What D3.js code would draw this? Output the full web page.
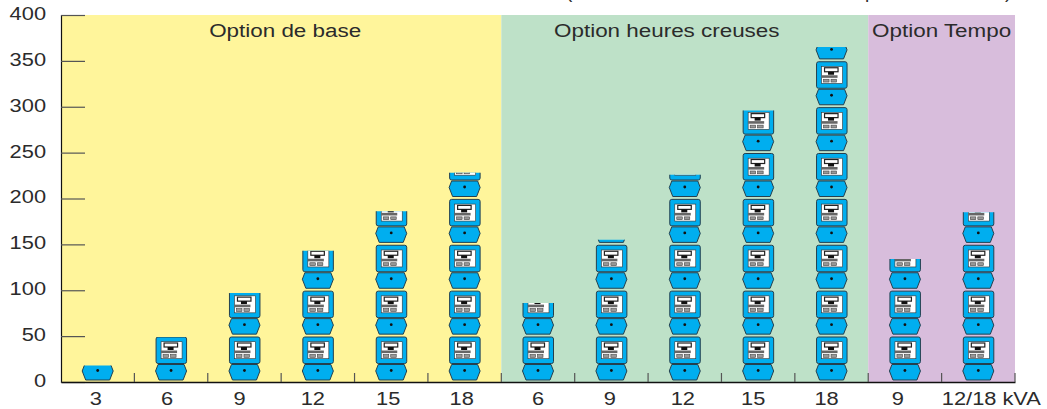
<!DOCTYPE html>
<html>
<head>
<meta charset="utf-8">
<script src="https://cdn.jsdelivr.net/npm/d3@7"></script>
<style>
  html, body { margin: 0; padding: 0; background: #fff; }
  svg { display: block; }
  text { font-family: "Liberation Sans", Arial, sans-serif; fill: #2b2b2b; }
  .axis text { font-size: 18.5px; }
  .zone { font-size: 19px; text-anchor: middle; }
</style>
</head>
<body>
<div id="plot"></div>
<script>
const categories = ["3", "6", "9", "12", "15", "18", "6", "9", "12", "15", "18", "9", "12/18 kVA"]
const values = [18, 49, 97, 143, 186, 228, 86, 155, 226, 296, 365, 134, 185]
const zoneNames = ["Option de base", "Option heures creuses", "Option Tempo"]
const zoneSpans = [6, 5, 2]
const zoneColors = ["#fff59b", "#bee1c8", "#d8bddc"]
const yTicks = [0, 50, 100, 150, 200, 250, 300, 350, 400]
const titleBits = ["(", "p", ")"]

// layout nudges, the labels of the original are not quite centred
const titleX = [566, 865, 1005],
    zoneShift = [4, -18, 0],
    labelShift = [-2, -4, -5, -5, -3, -3, 0, -1.5, -2, -5, -5, -7, -36.5],
    stretch = 1.18 // the original text is wider than it is tall

const w = 1047,
    h = 409,
    margin = {top: 15, right: 32, bottom: 27, left: 61},
    unit = 50, // one meter = 50
    ink = "#24404f",
    blue = "#00aeef"

const x = d3.scaleBand()
    .domain(d3.range(categories.length))
    .range([margin.left, w - margin.right])
const y = d3.scaleLinear()
    .domain([0, 400])
    .range([h - margin.bottom, margin.top])

const svg = d3.select("#plot").append("svg")
    .attr("width", w)
    .attr("height", h)

// coloured zones
let start = 0
zoneNames.forEach((name, i) => {
  const x0 = x(start),
      x1 = x(start) + x.step() * zoneSpans[i]
  svg.append("rect")
    .attr("x", x0)
    .attr("y", y(400))
    .attr("width", x1 - x0)
    .attr("height", y(0) - y(400))
    .attr("fill", zoneColors[i])
  svg.append("text")
    .attr("class", "zone")
    .attr("transform", `translate(${(x0 + x1) / 2 + zoneShift[i]},${y(400) + 22}) scale(${stretch},1)`)
    .text(name)
  start += zoneSpans[i]
})

// what is left of the cut off title line
titleBits.forEach((d, i) => {
  svg.append("text")
    .attr("x", titleX[i])
    .attr("y", -2)
    .style("font-size", "19px")
    .text(d)
})

// one meter, drawn with its base on y(0)
const drawMeter = (g) => {
  g.append("path")
    .attr("d", "M-13,-17.5 L13,-17.5 L15.5,-11 L12,-2 L-12,-2 L-15.5,-11 Z")
    .attr("fill", blue)
    .attr("stroke", ink)
    .attr("stroke-width", 1)
    .attr("stroke-linejoin", "round")
  g.append("circle")
    .attr("cy", -11.5)
    .attr("r", 1.4)
    .attr("fill", "#111")
  g.append("rect")
    .attr("x", -15)
    .attr("y", -45)
    .attr("width", 30.5)
    .attr("height", 26.5)
    .attr("rx", 2)
    .attr("fill", blue)
    .attr("stroke", ink)
    .attr("stroke-width", 1)
  g.append("rect")
    .attr("x", -10)
    .attr("y", -40.3)
    .attr("width", 21)
    .attr("height", 17)
    .attr("fill", "#fff")
    .attr("stroke", "#333")
    .attr("stroke-width", 0.6)
  g.append("rect")
    .attr("x", -7)
    .attr("y", -39)
    .attr("width", 13.5)
    .attr("height", 4)
    .attr("fill", "#fff")
    .attr("stroke", "#222")
    .attr("stroke-width", 1.2)
  g.append("rect")
    .attr("x", -3.5)
    .attr("y", -35)
    .attr("width", 6)
    .attr("height", 3)
    .attr("fill", "#111")
  g.append("rect")
    .attr("x", -10)
    .attr("y", -31.5)
    .attr("width", 16)
    .attr("height", 2.6)
    .attr("fill", "#666")
  g.append("rect")
    .attr("x", -8)
    .attr("y", -27.5)
    .attr("width", 5.5)
    .attr("height", 2.8)
    .attr("fill", "#999")
    .attr("stroke", "#444")
    .attr("stroke-width", 0.6)
  g.append("rect")
    .attr("x", -0.5)
    .attr("y", -27.5)
    .attr("width", 5.5)
    .attr("height", 2.8)
    .attr("fill", "#999")
    .attr("stroke", "#444")
    .attr("stroke-width", 0.6)
}

// stacks of meters cut at their value
const bars = svg.selectAll(".bar")
    .data(values)
    .join("g")
    .attr("class", "bar")

bars.append("clipPath")
    .attr("id", (d, i) => `bar-clip-${i}`)
    .append("rect")
    .attr("x", (d, i) => x(i))
    .attr("width", x.step())
    .attr("y", d => y(d))
    .attr("height", d => y(0) - y(d))

bars.each(function(d, i) {
  const stack = d3.select(this).append("g")
      .attr("clip-path", `url(#bar-clip-${i})`)
  d3.range(Math.ceil(d / unit)).forEach(n => {
    stack.append("g")
      .attr("transform", `translate(${x(i) + x.bandwidth() / 2},${y(n * unit)})`)
      .call(drawMeter)
  })
})

// y axis
svg.append("g")
    .attr("class", "axis")
    .attr("transform", `translate(${margin.left},0)`)
    .call(d3.axisLeft(y).tickValues(yTicks).tickSize(-24).tickPadding(15))
    .call(g => g.selectAll(".tick line").attr("stroke", "#555").attr("stroke-width", 1.2))
    .call(g => g.select(".domain").attr("stroke", "#111").attr("stroke-width", 1.2))
    .call(g => g.selectAll(".tick text")
      .attr("x", -15 / stretch)
      .attr("y", -1.5)
      .attr("transform", `scale(${stretch},1)`))

// x axis, ticks sit between the categories
const xAxis = svg.append("g")
    .attr("class", "axis")
    .attr("transform", `translate(0,${y(0)})`)
    .call(d3.axisBottom(x).tickFormat(i => categories[i]).tickSize(0).tickPadding(10))
xAxis.select(".domain").attr("stroke", "#111").attr("stroke-width", 1.5)
xAxis.selectAll(".tick text")
    .attr("dy", "0.71em")
    .attr("x", i => labelShift[i] / stretch)
    .attr("transform", `scale(${stretch},1)`)
    .filter(i => i === categories.length - 1)
    .attr("text-anchor", "start")
xAxis.selectAll(".sep")
    .data(d3.range(1, categories.length + 1))
    .join("line")
    .attr("class", "sep")
    .attr("x1", i => x.step() * i + margin.left)
    .attr("x2", i => x.step() * i + margin.left)
    .attr("y1", -9)
    .attr("y2", 0)
    .attr("stroke", "#555")
    .attr("stroke-width", 1.2)
</script>
</body>
</html>
